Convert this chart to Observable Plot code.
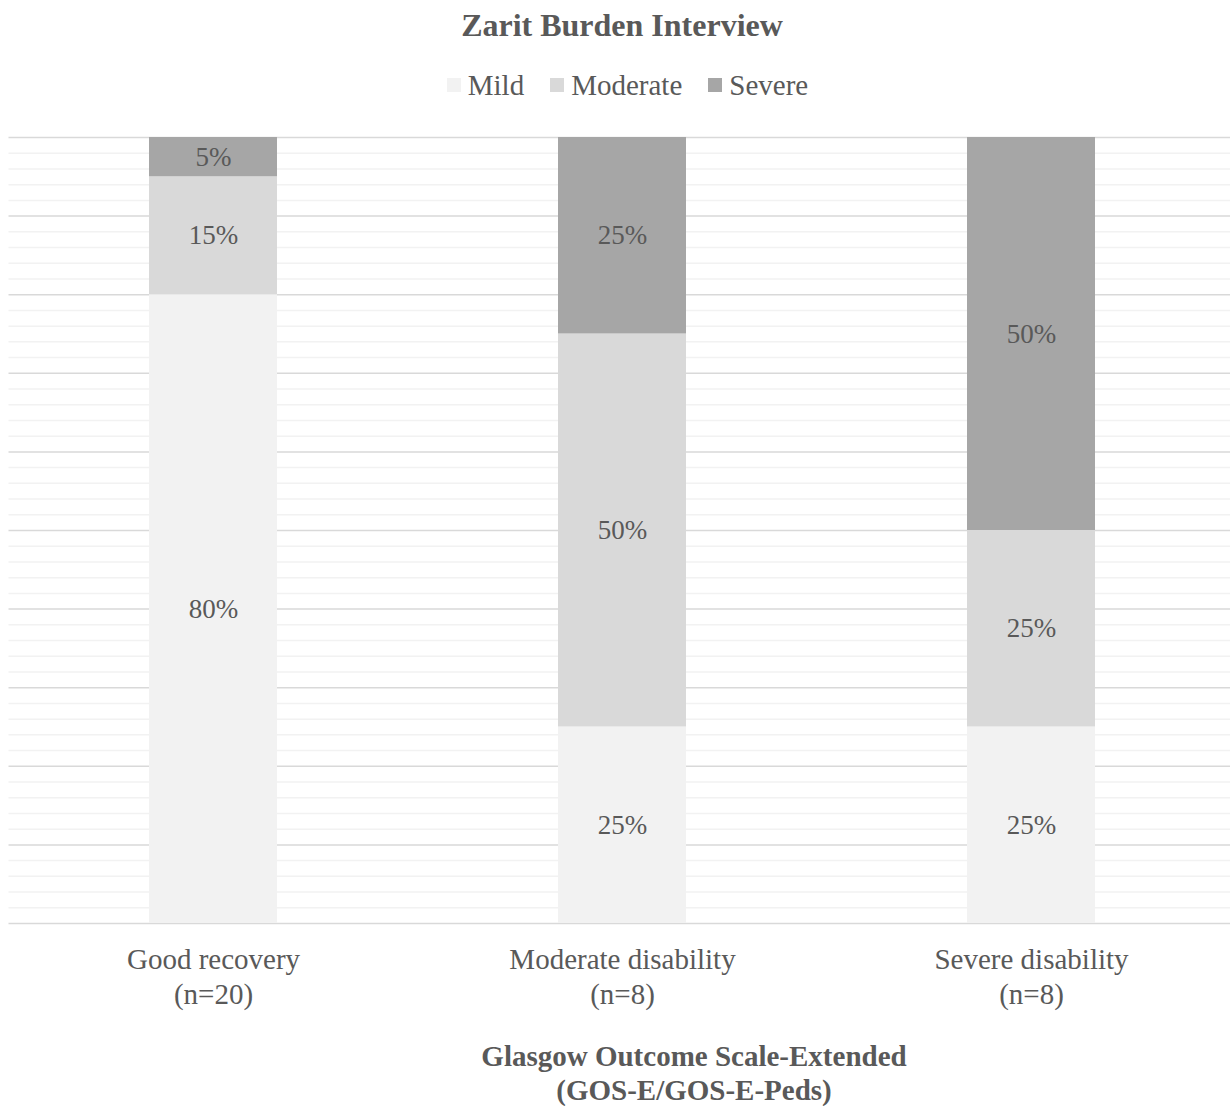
<!DOCTYPE html>
<html>
<head>
<meta charset="utf-8">
<script src="https://cdn.jsdelivr.net/npm/d3@7"></script>
<script src="https://cdn.jsdelivr.net/npm/@observablehq/plot@0.6"></script>
<style>
  body { margin: 0; background: #fff; font-family: "Liberation Serif", "Times New Roman", serif; color: #595959; overflow: hidden; }
  #title { margin-top: 10px; height: 30px; line-height: 30px; text-align: center; font-weight: bold; font-size: 32px; padding-left: 14px; }
  #legend { margin-top: 30px; height: 30px; line-height: 30px; display: flex; justify-content: center; gap: 26px; font-size: 29px; padding-left: 25px; }
  #legend .item { display: flex; align-items: center; }
  #legend .sw { width: 14px; height: 14px; margin-right: 7px; display: inline-block; }
  #xtitle { margin-top: 16px; line-height: 34px; text-align: center; font-weight: bold; font-size: 29px; padding-left: 158px; }
  svg { display: block; }
</style>
</head>
<body>
<div id="title">Zarit Burden Interview</div>
<div id="legend"></div>
<div id="chart"></div>
<div id="xtitle">Glasgow Outcome Scale-Extended<br>(GOS-E/GOS-E-Peds)</div>
<script>
const categories = ["Good recovery\n(n=20)", "Moderate disability\n(n=8)", "Severe disability\n(n=8)"];
const seriesNames = ["Mild", "Moderate", "Severe"];
const mild = [80, 25, 25];
const moderate = [15, 50, 25];
const severe = [5, 25, 50];
const colors = ["#f2f2f2", "#d9d9d9", "#a6a6a6"];
const gridTicks = d3.range(0, 101, 2);

const seriesValues = [mild, moderate, severe];
const data = [];
seriesNames.forEach((s, si) => {
  categories.forEach((c, ci) => {
    data.push({ cat: c, series: s, value: seriesValues[si][ci] });
  });
});

const legend = document.getElementById("legend");
seriesNames.forEach((s, i) => {
  const item = document.createElement("span");
  item.className = "item";
  item.innerHTML = `<span class="sw" style="background:${colors[i]}"></span>${s}`;
  legend.appendChild(item);
});

const chart = Plot.plot({
  width: 1230,
  height: 923,
  marginTop: 37,
  marginBottom: 100,
  marginLeft: 8.5,
  marginRight: -5.5,
  style: { fontFamily: "Liberation Serif, Times New Roman, serif", color: "#595959", background: "#fff", overflow: "hidden" },
  x: { domain: categories, paddingInner: 0.687, paddingOuter: 0.3435, label: null },
  y: { domain: [0, 100], axis: null },
  color: { domain: seriesNames, range: colors },
  marks: [
    Plot.ruleY(gridTicks.filter(t => t % 10 !== 0), { stroke: "#f2f2f2", strokeWidth: 1.5 }),
    Plot.ruleY(gridTicks.filter(t => t % 10 === 0), { stroke: "#d9d9d9", strokeWidth: 1.5 }),
    Plot.barY(data, { x: "cat", y: "value", fill: "series", order: seriesNames }),
    Plot.text(data, Plot.stackY({ x: "cat", y: "value", z: "series", order: seriesNames, text: d => d.value + "%", fontSize: 27, fill: "#595959" })),
    Plot.axisX({ tickSize: 0, tickPadding: 21, fontSize: 29, lineHeight: 1.2, fill: "#595959" })
  ]
});
document.getElementById("chart").appendChild(chart);
</script>
</body>
</html>
